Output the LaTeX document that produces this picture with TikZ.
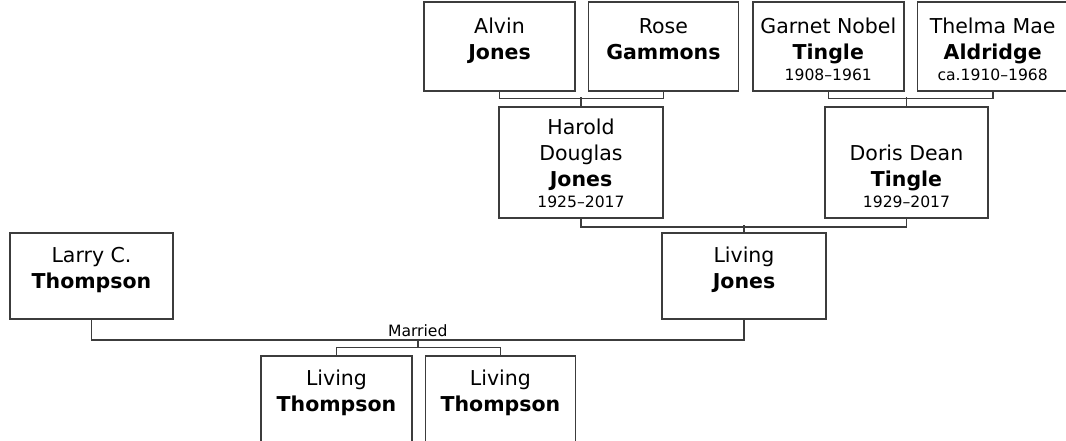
\documentclass[tikz,border=0pt]{standalone}
\usepackage{fontspec}
\setmainfont{DejaVu Sans}
\definecolor{treeGray}{RGB}{60,60,60}
\usetikzlibrary{positioning,calc}

% width, height, given names, surname, dates
\newcommand{\famperson}[5]{%
  \vbox to #2pt{\hsize=#1pt\parskip=0pt\centering
    \fontsize{20.5}{26}\selectfont\vfill
    #3\\\textbf{#4}\\[-5pt]
    \leavevmode{\fontsize{15.6}{21}\selectfont #5}\par\vskip10pt}}

\begin{document}
\begin{tikzpicture}[x=1pt, y=-1pt,
  pers/.style={draw=treeGray, line width=1.4pt, inner sep=0pt, fill=white},
  link/.style={draw=treeGray, line width=1.6pt}
]
  \useasboundingbox (0,0) rectangle (1066,441);

  % grandparents
  \node[pers] (alvin) at (499.5,46.5) {\famperson{151}{89}{Alvin}{Jones}{}};
  \node[pers, right=12pt of alvin]  (rose)   {\famperson{150}{89}{Rose}{Gammons}{}};
  \node[pers, right=13pt of rose]   (garnet) {\famperson{151}{89}{Garnet Nobel}{Tingle}{1908–1961}};
  \node[pers, right=12pt of garnet] (thelma) {\famperson{151}{89}{Thelma Mae}{Aldridge}{ca.1910–1968}};

  % parents
  \node[pers] (harold) at (581,162.5)   {\famperson{164}{111}{Harold\\Douglas}{Jones}{1925–2017}};
  \node[pers] (doris)  at (906.5,162.5) {\famperson{163}{111}{Doris Dean}{Tingle}{1929–2017}};

  % couple
  \node[pers] (jones) at (744,276)  {\famperson{164}{86}{Living}{Jones}{}};
  \node[pers] (larry) at (91.5,276) {\famperson{163}{86}{Larry C.}{Thompson}{}};

  % children
  \node[pers] (kid1) at (336.5,399)  {\famperson{151}{86}{Living}{Thompson}{}};
  \node[pers, right=12pt of kid1] (kid2) {\famperson{150}{86}{Living}{Thompson}{}};

  \draw[link] (alvin.south) -- ++(0,7) -| (rose.south);
  \draw[link] (harold.north) -- ++(0,-9);
  \draw[link] (garnet.south) -- ++(0,7) -| (thelma.south);
  \draw[link] (doris.north) -- ++(0,-9);
  \draw[link] (harold.south) -- ++(0,8) -| (doris.south);
  \draw[link] (jones.north) -- ++(0,-7);

  \draw[link] (larry.south) -- ++(0,20) -| (jones.south);
  \coordinate (wed) at ($(larry.south)!0.5!(jones.south)+(0,20)$);
  \node[anchor=base, yshift=3.5pt, inner sep=0pt, font=\fontsize{15.6}{19}\selectfont] (married) at (wed) {Married};
  \draw[link] (kid1.north) -- ++(0,-8) coordinate (kidbar) -| (kid2.north);
  \draw[link] (wed) -- (wed |- kidbar);
\end{tikzpicture}
\end{document}
